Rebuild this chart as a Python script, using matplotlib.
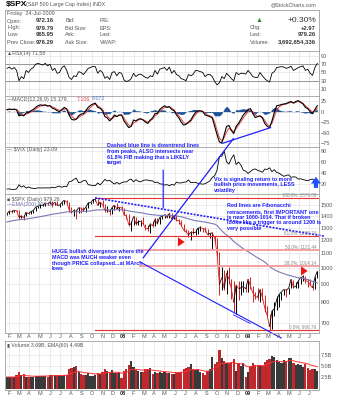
import numpy as np
import pandas as pd
import matplotlib
matplotlib.use("Agg")
import matplotlib.pyplot as plt
import matplotlib.dates as mdates
from matplotlib.patches import ConnectionPatch
from matplotlib.collections import LineCollection

plt.rcParams['font.family'] = ['Liberation Sans', 'DejaVu Sans']

# ---- weekly data, Jan-26-2007 .. Jul-24-2009 (131 weeks) ----
spx_close = [1422,
    1449, 1438, 1455, 1451,  1388, 1402, 1386, 1437, 1421,  1443, 1452, 1484, 1494,
    1505, 1505, 1522, 1515,  1536, 1507, 1533, 1502, 1503,  1530, 1553, 1534, 1458,
    1433, 1453, 1445, 1479, 1474,  1454, 1484, 1525, 1527,  1557, 1561, 1500, 1535,
    1509, 1453, 1458, 1440, 1481,  1504, 1468, 1484, 1478,
    1411, 1401, 1325, 1331,  1396, 1331, 1349, 1353, 1331,  1294, 1288, 1330, 1316,
    1370, 1332, 1390, 1398,  1413, 1388, 1425, 1375, 1400,  1361, 1360, 1318, 1278,
    1263, 1239, 1261, 1257,  1260, 1296, 1298, 1293, 1283,  1242, 1252, 1255, 1213,
    1099, 899, 940, 877, 968,  931, 873, 800, 896,  876, 879, 887, 873,
    931, 890, 850, 832, 826,  869, 827, 770, 735,  683, 757, 768, 816,
    843, 857, 870, 866,  877, 929, 883, 887, 919,  940, 946, 921, 918,  896, 879, 941, 979]
spx_high = [1427,
    1449, 1452, 1456, 1461,  1456, 1410, 1409, 1438, 1438,  1449, 1453, 1485, 1498,
    1510, 1513, 1522, 1529,  1540, 1540, 1538, 1540, 1514,  1532, 1555, 1556, 1535,
    1488, 1466, 1453, 1485, 1481,  1481, 1488, 1530, 1532,  1561, 1576, 1565, 1536,
    1553, 1510, 1492, 1452, 1488,  1509, 1523, 1486, 1499,
    1471, 1420, 1417, 1355,  1405, 1391, 1368, 1361, 1388,  1332, 1321, 1341, 1355,
    1380, 1381, 1395, 1404,  1422, 1415, 1426, 1426, 1406,  1406, 1375, 1367, 1333,
    1285, 1281, 1270, 1292,  1286, 1297, 1313, 1300, 1303,  1287, 1257, 1265, 1227,
    1215, 1106, 1006, 984, 985,  1007, 934, 917, 896,  919, 918, 918, 888,
    934, 944, 891, 855, 877,  871, 876, 839, 780,  741, 761, 803, 833,
    845, 858, 875, 871,  879, 930, 925, 911, 920,  945, 956, 951, 930,  931, 898, 943, 982]
spx_low = [1412,
    1420, 1433, 1436, 1440,  1374, 1381, 1364, 1399, 1416,  1419, 1433, 1448, 1478,
    1480, 1491, 1491, 1505,  1512, 1490, 1504, 1500, 1484,  1502, 1518, 1527, 1440,
    1432, 1404, 1370, 1432, 1432,  1451, 1438, 1476, 1515,  1526, 1541, 1500, 1489,
    1492, 1436, 1440, 1407, 1416,  1460, 1467, 1445, 1465,
    1411, 1370, 1312, 1270,  1320, 1321, 1320, 1310, 1328,  1282, 1273, 1257, 1308,
    1312, 1326, 1331, 1373,  1383, 1383, 1384, 1372, 1373,  1355, 1330, 1317, 1272,
    1260, 1225, 1200, 1248,  1241, 1248, 1274, 1261, 1263,  1236, 1217, 1133, 1185,
    1083, 839, 869, 865, 845,  899, 818, 752, 741,  815, 837, 857, 857,
    857, 873, 804, 818, 814,  800, 813, 754, 731,  667, 673, 732, 763,
    779, 812, 838, 826,  847, 878, 878, 876, 881,  903, 921, 908, 886,  893, 869, 875, 936]
spx_ema200 = [1348,
    1353, 1357, 1361, 1365,  1367, 1369, 1371, 1374, 1377,  1380, 1383, 1387, 1391,
    1395, 1399, 1404, 1408,  1413, 1417, 1421, 1424, 1427,  1431, 1435, 1439, 1440,
    1440, 1440, 1440, 1441, 1442,  1442, 1443, 1446, 1448,  1452, 1456, 1457, 1459,
    1460, 1459, 1459, 1458, 1458,  1459, 1459, 1459, 1459,
    1456, 1453, 1448, 1443,  1441, 1437, 1434, 1431, 1428,  1423, 1418, 1415, 1412,
    1411, 1408, 1407, 1406,  1406, 1405, 1405, 1404, 1404,  1401, 1398, 1394, 1388,
    1382, 1375, 1369, 1364,  1359, 1356, 1353, 1350, 1347,  1342, 1338, 1334, 1329,
    1318, 1294, 1274, 1254, 1238,  1224, 1207, 1187, 1173,  1159, 1146, 1133, 1121,
    1112, 1101, 1090, 1079, 1068,  1060, 1050, 1039, 1026,  1010, 999, 989, 981,
    975, 969, 964, 959,  954, 951, 946, 942, 939,  936, 934, 931, 928,  922, 917, 912, 908]
rsi = [60,
    63, 58, 62, 55,  30, 40, 35, 55, 50,  58, 62, 70, 72,
    70, 68, 72, 66,  70, 55, 60, 48, 50,  62, 66, 55, 38,
    33, 42, 40, 52, 50,  45, 52, 60, 62,  65, 64, 48, 55,
    50, 36, 40, 33, 50,  52, 42, 50, 48,
    32, 28, 30, 35,  48, 40, 45, 46, 42,  38, 36, 42, 40,
    55, 46, 58, 60,  62, 55, 63, 48, 55,  45, 42, 35, 33,
    30, 45, 42, 46,  55, 54, 52, 50, 40,  45, 45, 40, 28,
    20, 25, 40, 35, 48,  42, 35, 30, 50,  45, 48, 48, 46,
    55, 48, 40, 38, 38,  50, 42, 35, 30,  27, 48, 52, 62,
    63, 64, 63, 60,  62, 65, 55, 58, 62,  64, 66, 55, 58,  48, 43, 62, 72]
macd = [5,
    6, 5, 6, 4,  -10, -8, -10, -3, -2,  2, 5, 10, 14,
    16, 15, 16, 13,  14, 8, 6, 2, 0,  5, 10, 6, -8,
    -18, -20, -18, -10, -6,  -5, 2, 10, 15,  18, 20, 10, 8,
    2, -12, -15, -22, -16,  -8, -12, -8, -8,
    -22, -30, -38, -35,  -20, -22, -18, -17, -20,  -25, -28, -20, -15,
    -5, -4, 5, 10,  14, 10, 12, 5, 2,  -8, -15, -25, -32,
    -30, -25, -20, -10,  -2, 2, 2, 0, -8,  -10, -12, -15, -35,
    -55, -72, -75, -55, -35,  -33, -45, -52, -35,  -28, -18, -8, -2,
    5, 7, -5, -14, -12,  -10, -15, -28, -35,  -38, -22, -2, 14,
    15, 17, 18, 19,  22, 24, 20, 24, 26,  22, 18, 10, 7,  0, -5, 5, 14]
macd_signal = [4,
    5, 5, 5, 5,  0, -5, -8, -6, -4,  -1, 2, 6, 10,
    13, 14, 15, 14,  14, 11, 9, 5, 3,  3, 6, 7, 0,
    -10, -16, -18, -14, -10,  -7, -3, 4, 10,  15, 18, 14, 10,
    5, -5, -10, -17, -17,  -12, -11, -9, -8,
    -15, -24, -32, -34,  -27, -24, -20, -18, -19,  -22, -25, -22, -18,
    -10, -6, 0, 6,  10, 11, 11, 8, 4,  -3, -10, -18, -26,
    -29, -27, -23, -15,  -7, -1, 1, 1, -4,  -8, -10, -13, -25,
    -45, -62, -70, -62, -48,  -40, -43, -48, -40,  -32, -24, -15, -8,
    0, 4, 0, -8, -11,  -11, -13, -21, -30,  -35, -28, -12, 4,
    11, 15, 17, 18,  20, 22, 21, 22, 24,  23, 20, 14, 9,  4, -1, 2, 8]
vix = [11.0,
    11.1, 10.4, 10.0, 11.2,  18.6, 14.5, 16.8, 12.7, 14.6,  12.9, 12.1, 12.1, 13.1,
    12.9, 13.0, 12.9, 13.1,  12.9, 14.3, 13.2, 15.1, 16.2,  14.1, 16.0, 15.2, 24.2,
    25.2, 28.2, 30.7, 22.3, 23.4,  26.2, 26.2, 19.0, 18.0,  17.5, 17.0, 22.0, 18.5,
    23.0, 28.5, 25.5, 26.8, 22.9,  20.0, 23.0, 20.0, 22.5,
    23.9, 23.7, 27.2, 29.0,  24.0, 28.0, 25.0, 24.0, 26.5,  27.5, 27.0, 26.0, 25.7,
    22.5, 23.5, 20.3, 20.0,  18.2, 19.0, 17.0, 19.5, 17.8,  23.5, 22.0, 22.0, 23.4,
    23.6, 27.5, 22.5, 23.0,  23.0, 21.2, 20.5, 19.8, 20.6,  23.0, 25.7, 32.1, 35.0,
    45.1, 69.9, 70.3, 79.1, 59.9,  56.1, 66.3, 72.7, 55.3,  59.9, 54.3, 44.9, 43.4,
    39.2, 42.8, 46.1, 47.3, 44.8,  43.4, 41.3, 47.1, 46.4,  49.3, 42.4, 45.9, 41.0,
    39.7, 36.5, 33.9, 35.8,  36.5, 32.0, 33.1, 32.6, 28.9,  29.6, 28.2, 27.1, 25.9,
    27.9, 29.0, 25.4, 23.1]
volume_b = [2.6,
    2.6, 2.6, 2.5, 3.0,  3.7, 3.1, 3.3, 2.7, 2.6,  2.5, 2.6, 2.8, 2.8,
    2.9, 2.8, 2.9, 2.7,  3.0, 3.1, 3.1, 3.0, 3.1,  2.9, 3.0, 3.1, 4.3,
    4.5, 4.8, 5.0, 3.6, 3.2,  3.0, 3.1, 3.4, 2.9,  2.8, 3.0, 3.5, 3.3,
    3.8, 4.3, 4.0, 3.5, 4.2,  3.5, 3.4, 3.6, 2.4,
    4.0, 4.3, 5.2, 6.2,  4.9, 4.1, 3.9, 3.8, 3.8,  4.3, 4.4, 4.6, 3.3,
    3.7, 3.5, 3.8, 3.4,  3.6, 3.5, 3.4, 3.3, 3.2,  3.6, 3.7, 3.8, 4.3,
    4.5, 4.8, 5.4, 4.3,  4.2, 4.3, 3.6, 3.4, 3.0,  4.0, 4.3, 7.0, 5.5,
    6.0, 8.5, 6.8, 6.2, 5.8,  5.8, 5.9, 6.6, 4.0,  5.6, 5.0, 5.6, 2.6,
    3.7, 5.0, 5.8, 5.3, 5.2,  5.3, 5.1, 5.9, 6.4,  6.7, 7.2, 7.0, 6.3,
    5.9, 5.6, 6.4, 6.1,  6.8, 6.9, 5.7, 5.2, 5.5,  5.3, 4.9, 5.5, 4.6,
    4.1, 4.3, 4.4, 3.9]

weeks = pd.date_range('2007-01-26', periods=len(spx_close), freq='W-FRI')
xw = mdates.date2num(weeks)

# fibonacci levels between Mar-09 low and Oct-07 high
fib_low, fib_high = 666.79, 1576.09
fib_pcts = [100.0, 61.8, 50.0, 38.2, 0.0]

rsi_ticks = [10, 30, 50, 70, 90]
macd_ticks = [-75, -50, -25, 0, 25]
vix_ticks = [20, 40, 60, 80]
spx_ticks = [700, 800, 900, 1000, 1100, 1200, 1300, 1400, 1500]
vol_ticks = [2.5, 5.0, 7.5]
vol_tick_labels = ['2.5B', '5.0B', '7.5B']

months = pd.date_range('2007-02-01', '2009-07-01', freq='MS')
month_labels = [m.strftime('%y') if m.month == 1 else m.strftime('%b')[0] for m in months]

W, H = 341, 400
fig = plt.figure(figsize=(W / 100, H / 100), dpi=100)
fig.patch.set_facecolor('white')
BLUE = '#1e1eff'
GRID = '#e4e4e4'
TXT = '#555555'


def fx(x, y):
    return x / W, 1 - y / H


def panel(top, bottom):
    return fig.add_axes([5 / W, 1 - bottom / H, 314 / W, (bottom - top) / H])


def d(s):
    return mdates.date2num(pd.Timestamp(s))


def style(ax, ticks, labels=None, xlabels=False):
    ax.set_xlim(d('2007-01-20'), d('2009-07-29'))
    ax.set_xticks(mdates.date2num(months))
    ax.yaxis.tick_right()
    ax.set_yticks(ticks)
    if labels is not None:
        ax.set_yticklabels(labels)
    ax.grid(True, color=GRID, lw=0.5)
    ax.set_axisbelow(True)
    ax.tick_params(length=0, labelsize=4, colors=TXT, pad=1.5)
    for s in ax.spines.values():
        s.set_color('#a0a0a0')
        s.set_linewidth(0.6)
    if xlabels:
        ax.set_xticklabels(month_labels)
        for t in ax.get_xticklabels():
            if t.get_text().isdigit():
                t.set_fontweight('bold')
                t.set_color('#222222')
    else:
        ax.set_xticklabels([])


# ---- title and header box ----
fig.text(*fx(6, 4.5), '$SPX', fontsize=6, fontweight='bold', va='center')
fig.text(*fx(26, 4.5), '(S&P 500 Large Cap Index) INDX', fontsize=3.8, color=TXT, va='center')
fig.text(*fx(316, 4.5), '@StockCharts.com', fontsize=3.8, color=TXT, va='center', ha='right')

hdr = panel(10, 51)
hdr.set_xticks([]); hdr.set_yticks([])
for s in hdr.spines.values():
    s.set_color('#a0a0a0'); s.set_linewidth(0.6)

hdr_names = ['Open:', 'High:', 'Low:', 'Prev Close:']
hdr_values = ['972.16', '979.79', '965.95', '976.29']
hdr_mid = ['Bid:', 'Bid Size:', 'Ask:', 'Ask Size:']
hdr_mid2 = ['P/E:', 'EPS:', 'Last:', 'VWAP:']
hdr_right = ['Chg:', 'Last:', 'Volume:']
hdr_right_vals = ['+2.97', '979.26', '3,692,654,336']

fig.text(*fx(7, 14), 'Friday  24-Jul-2009', fontsize=4, color=TXT, va='center')
for k in range(4):
    y = 21 + 7 * k
    fig.text(*fx(7, y), hdr_names[k], fontsize=4, color=TXT, va='center')
    fig.text(*fx(36, y), hdr_values[k], fontsize=4.2, fontweight='bold', color='#333333', va='center')
    fig.text(*fx(65, y), hdr_mid[k], fontsize=4, color=TXT, va='center')
    fig.text(*fx(100, y), hdr_mid2[k], fontsize=4, color=TXT, va='center')
fig.text(*fx(256, 21), '\u25b2', fontsize=5, color='#2a8a2a', va='center')
fig.text(*fx(316, 21), '+0.30%', fontsize=6, color='#333333', va='center', ha='right')
for k in range(3):
    y = 28 + 7 * k
    fig.text(*fx(250, y), hdr_right[k], fontsize=4, color=TXT, va='center')
    fig.text(*fx(316, y), hdr_right_vals[k], fontsize=4.2, fontweight='bold', color='#333333',
             va='center', ha='right')

# ---- RSI ----
ax_rsi = panel(51, 96)
style(ax_rsi, rsi_ticks)
ax_rsi.set_ylim(-7, 102)
for lv in (70, 30):
    ax_rsi.axhline(lv, color='#888888', lw=0.6)
ax_rsi.plot(xw, rsi, color='black', lw=0.6)
fig.text(*fx(7, 54), '\u25b2RSI(14) 71.58', fontsize=3.8, color=TXT, va='center')

# ---- MACD ----
ax_macd = panel(96, 147)
style(ax_macd, macd_ticks)
ax_macd.set_ylim(-84, 37)
hist = np.array(macd) - np.array(macd_signal)
ax_macd.fill_between(xw, hist, 0, color='#1f5596', lw=0)
ax_macd.plot(xw, macd_signal, color='#e84040', lw=0.7)
ax_macd.plot(xw, macd, color='black', lw=0.8)
ax_macd.plot([d('2008-10-20'), d('2009-03-09')], [-75, -38], color=BLUE, lw=0.9)
fig.text(*fx(7, 99), '\u2014MACD(12,26,9) 15.179,', fontsize=3.8, color=TXT, va='center')
fig.text(*fx(77, 99), '7.106,', fontsize=3.8, color='#e84040', va='center')
fig.text(*fx(92, 99), '8.072', fontsize=3.8, color='#5070c0', va='center')

# ---- VIX ----
ax_vix = panel(147, 194)
style(ax_vix, vix_ticks)
ax_vix.set_ylim(2, 87)
ax_vix.plot(xw, vix, color='black', lw=0.6)
fig.text(*fx(7, 150), '\u2014 $VIX (Daily) 23.09', fontsize=3.8, color=TXT, va='center')
ax_vix.annotate('', xy=(d('2009-07-20'), 38), xytext=(d('2009-07-20'), 8),
                arrowprops=dict(arrowstyle='simple,head_width=1.2,head_length=0.8,tail_width=0.5',
                                color='#1e50ff', lw=0, mutation_scale=6))

# ---- SPX ----
ax_spx = panel(194, 333)
ax_spx.set_yscale('log')
style(ax_spx, spx_ticks, [str(t) for t in spx_ticks], xlabels=True)
ax_spx.minorticks_off()
ax_spx.set_ylim(656, 1616)
ax_spx.tick_params(axis='x', pad=1)

closes = np.array(spx_close)
down = np.r_[False, closes[1:] < closes[:-1]]
bar_cols = np.where(down, '#d42020', 'black')
ax_spx.vlines(xw, spx_low, spx_high, colors=bar_cols, lw=0.7)
segs = [[(xw[k], closes[k]), (xw[k + 1], closes[k + 1])] for k in range(len(xw) - 1)]
ax_spx.add_collection(LineCollection(segs, colors=bar_cols[1:], lw=0.6))
ax_spx.plot(xw, spx_ema200, color='#7a7ab8', lw=0.8)

for p in fib_pcts:
    lvl = fib_low + (fib_high - fib_low) * p / 100
    light = p in (50.0, 38.2)
    start = d('2008-02-20') if light else d('2007-10-11')
    ax_spx.plot([start, ax_spx.get_xlim()[1]], [lvl, lvl],
                color='#f4a0a0' if light else '#e83030', lw=1.4 if light else 0.8)
    ax_spx.text(d('2009-07-22'), lvl * 1.001, f'{p:.1f}%: {lvl:.2f}', fontsize=3.3,
                color='#888888', ha='right', va='bottom')

ax_spx.plot([d('2007-10-11'), d('2009-08-12')], [1576, 1230], color=BLUE, lw=1.2,
            ls=(0, (1.2, 0.8)), clip_on=False)
ax_spx.plot([d('2008-02-20'), d('2009-04-09')], [1040, 635], color=BLUE, lw=0.8, clip_on=False)
ax_spx.plot([d('2008-11-20'), d('2009-01-08')], [738, 698], color=BLUE, lw=0.6)

for a, b, lv in [('2008-06-07', '2008-07-08', 1184), ('2009-06-04', '2009-07-04', 981)]:
    ax_spx.annotate('', xy=(d(b), lv), xytext=(d(a), lv),
                    arrowprops=dict(arrowstyle='simple,head_width=1.1,head_length=0.8,tail_width=0.5',
                                    color='#ee1111', lw=0, mutation_scale=6))

fig.text(*fx(7, 199), '\u25a0 $SPX (Daily) 979.26', fontsize=3.8, color=TXT, va='center')
fig.text(*fx(7, 205), '\u2014EMA(200) 907.58', fontsize=3.8, color='#7070b0', va='center')

# cross-panel annotation lines
for xyA, axA, xyB, axB, ls in [
        ((d('2008-11-20'), -64), ax_macd, (d('2008-02-29'), 1067), ax_spx, '-'),
        ((d('2008-04-28'), 45), ax_vix, (d('2008-04-28'), 1476), ax_spx, (0, (1.2, 0.8)))]:
    con = ConnectionPatch(xyA=xyA, coordsA=axA.transData, xyB=xyB, coordsB=axB.transData,
                          color=BLUE, lw=0.9, ls=ls)
    fig.add_artist(con)

# ---- Volume ----
ax_vol = panel(341, 390)
style(ax_vol, vol_ticks, vol_tick_labels, xlabels=True)
ax_vol.set_ylim(-0.3, 10.6)
ax_vol.tick_params(axis='x', pad=1)
vol_cols = np.where(down, '#c0282d', '#3a3a3a')
ax_vol.bar(weeks, volume_b, width=6.5, color=vol_cols, lw=0)
vol_ema = pd.Series(volume_b).ewm(span=12, adjust=False).mean()
ax_vol.plot(xw, vol_ema, color='#ff3030', lw=0.7)
fig.text(*fx(7, 346), '\u25ae Volume 3.69B, EMA(60) 4.49B', fontsize=3.8, color=TXT, va='center')

# ---- hand-written notes ----
note_kw = dict(fontsize=3.9, color=BLUE, va='top', linespacing=1.2, fontweight='bold')
fig.text(*fx(107, 143), 'Dashed blue line is downtrend lines\nfrom peaks, ALSO intersects near\n'
         '61.8% FIB making that a LIKELY\ntarget', **note_kw)
fig.text(*fx(214, 177), 'Vix is signaling return to more\nbullish price movements, LESS\nvolatility',
         **dict(note_kw, linespacing=1.1))
fig.text(*fx(227, 203), 'Red lines are Fibonacchi\nretracements, first IMPORTANT one\n'
         'is near 1000-1014. That if broken\nlooks like a trigger to around 1200 is\nvery possible',
         **note_kw)
fig.text(*fx(52, 249), 'HUGE bullish divergence where the\nMACD was MUCH weaker even\n'
         'though PRICE collapsed...at MArch\nlows', **note_kw)

fig.savefig('out.png', dpi=100, facecolor='white')
